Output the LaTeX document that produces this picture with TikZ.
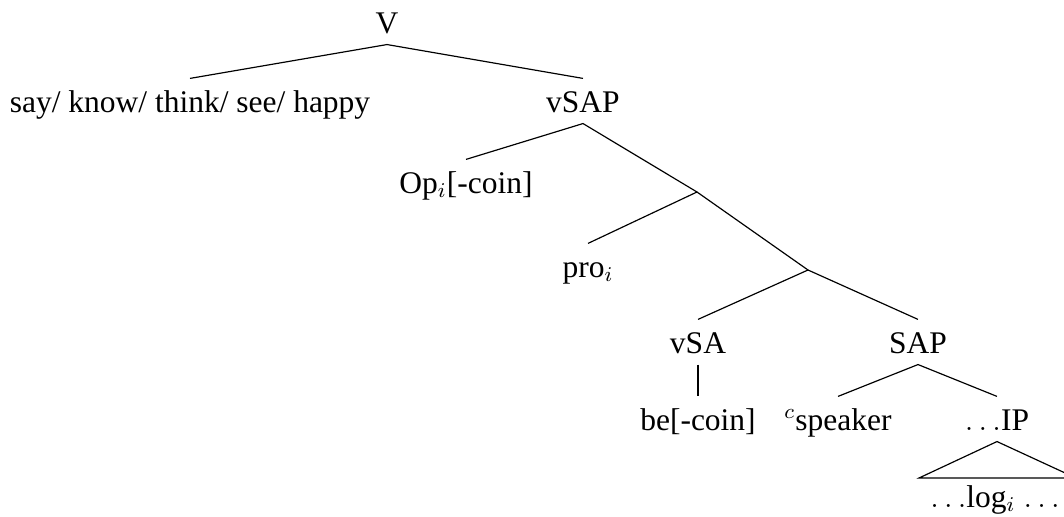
\documentclass[tikz,border=0pt]{standalone}
\usepackage{fontspec}
\setmainfont{Liberation Serif}
\begin{document}
\begin{tikzpicture}[x=0.381pt,y=-0.381pt,
  lbl/.style={anchor=base,inner sep=0pt,font=\fontsize{12}{14}\selectfont,
              text height=12.6pt,text depth=4.2pt},
  branch/.style={line width=0.45pt}]
\path[use as bounding box] (0,0) rectangle (1064,517);

% labels (placed on their baselines)
\node[lbl] (V)    at (387,33)  {V};
\node[lbl] (say)  at (190,112) {say/ know/ think/ see/ happy};
\node[lbl] (vSAP) at (583,112) {vSAP};
\node[lbl] (Op)   at (466,193) {Op$_i$[-coin]};
\node[lbl] (pro)  at (588,277) {pro$_i$};
\node[lbl] (vSA)  at (698,353) {vSA};
\node[lbl] (SAP)  at (918,353) {SAP};
\node[lbl] (be)   at (698,430) {be[-coin]};
\node[lbl] (spk)  at (838,430) {$^c$speaker};
\node[lbl] (IP)   at (997,430) {$\ldots$IP};
\node[lbl] (log)  at (995,507) {$\ldots$log$_i$ $\ldots$};

% unlabelled intermediate projections
\coordinate (J1) at (697,192);
\coordinate (J2) at (808,270);
% base corners of the IP triangle
\coordinate (tl) at (919,478);
\coordinate (tr) at (1076,478);

\draw[branch] (say.north) -- (V.south) -- (vSAP.north);
\draw[branch] (Op.north) -- (vSAP.south) -- (J1);
\draw[branch] (pro.north) -- (J1) -- (J2);
\draw[branch] (vSA.north) -- (J2) -- (SAP.north);
\draw[branch] (vSA.south) -- (be.north);
\draw[branch] (spk.north) -- (SAP.south) -- (IP.north);
\draw[branch] (IP.south) -- (tl) -- (tr) -- cycle;
\end{tikzpicture}
\end{document}
